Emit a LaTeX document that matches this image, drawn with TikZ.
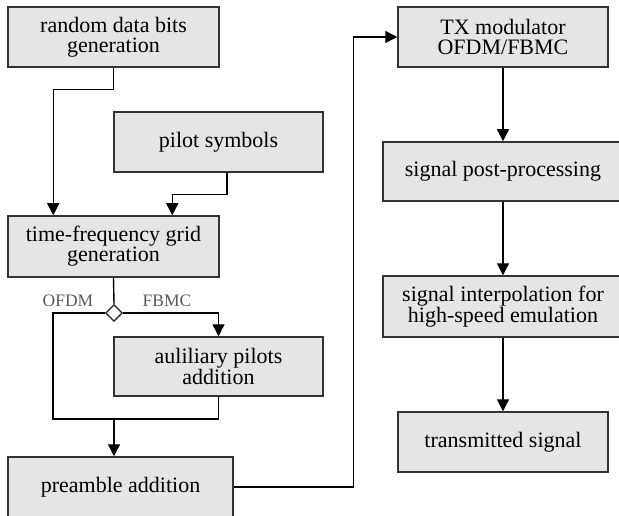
\documentclass[tikz,border=0pt]{standalone}
\usepackage{fontspec}
\setmainfont{Liberation Serif}[Ligatures=TeX]
\usetikzlibrary{arrows.meta,shapes.geometric}
\begin{document}
\begin{tikzpicture}[x=1pt,y=-1pt,
        block/.style={draw=black!80, line width=1.5pt, fill=black!10, align=center, inner sep=0pt, font=\fontsize{22}{20}\selectfont},
        line/.style={line width=1.4pt},
        flow/.style={line width=1.4pt, -{Triangle[length=12pt,width=12pt]}},
        branch/.style={text=black!65, font=\fontsize{17.5}{20}\selectfont}]
        \useasboundingbox (0,0) rectangle (619,516);

        \node[block, minimum width=211pt, minimum height=60pt] (bits) at (113.5,37) {random data bits\\generation};
        \node[block, minimum width=209pt, minimum height=60pt] (pilots) at (218.5,142) {pilot symbols};
        \node[block, minimum width=211pt, minimum height=61pt] (grid) at (113.5,246.5) {time-frequency grid\\generation};
        \node[diamond, draw=black!80, line width=1.4pt, fill=white, minimum size=17pt, inner sep=0pt] (dia) at (114,313) {};
        \node[block, minimum width=209pt, minimum height=59pt] (aux) at (218.5,366.5) {auliliary pilots\\addition};
        \node[block, minimum width=225pt, minimum height=60pt] (preamble) at (120.5,487) {preamble addition};

        \node[block, minimum width=210pt, minimum height=60pt] (tx) at (503,37) {TX modulator\\OFDM/FBMC};
        \node[block, minimum width=240pt, minimum height=59pt] (post) at (503,171.5) {signal post-processing};
        \node[block, minimum width=240pt, minimum height=61pt] (interp) at (503,306.5) {signal interpolation for\\high-speed emulation};
        \node[block, minimum width=210pt, minimum height=60pt] (trans) at (503,442) {transmitted signal};

        \node[branch] (ofdm) at (68,301) {OFDM};
        \node[branch] (fbmc) at (167,301) {FBMC};
        \coordinate (join) at (114,419);

        \draw[flow] (bits.south) -- ++(0,22) -| ([xshift=46pt]grid.north west);
        \draw[flow] ([xshift=8.5pt]pilots.south) -- ++(0,22) -| ([xshift=165pt]grid.north west);
        \draw[line] (grid.south) -- (dia.north);
        \draw[flow] (dia.east) -| (aux.north);
        \draw[line] (dia.west) -- ++(-52,0) |- (join);
        \draw[line] (aux.south) |- (join);
        \draw[flow] (join) -- (join |- preamble.north);
        \draw[flow] (preamble.east) -- ++(120,0) |- (tx.west);
        \draw[flow] (tx.south) -- (post.north);
        \draw[flow] (post.south) -- (interp.north);
        \draw[flow] (interp.south) -- (trans.north);
    \end{tikzpicture}
\end{document}
